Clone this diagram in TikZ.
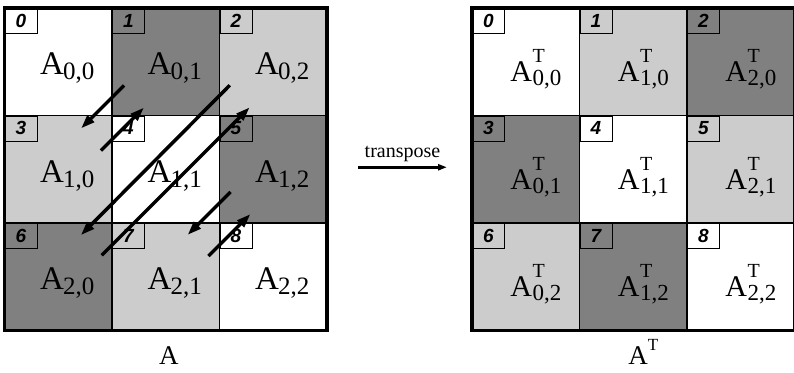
\documentclass[tikz,border=0pt]{standalone}
\usepackage{fontspec}
\setmainfont{Liberation Serif}
\newfontfamily\numfont{Liberation Sans}
\usepackage{tikz}
\usetikzlibrary{arrows.meta, calc}
\definecolor{lightblk}{gray}{0.80}
\definecolor{darkblk}{gray}{0.50}

% block names: A_{i,j} and A^T_{i,j}
\newcommand{\blk}[2]{A\kern-0.02em\raisebox{-5pt}{\fontsize{25}{25}\selectfont #1,#2}}
\newcommand{\blkT}[2]{A\kern0.02em\rlap{\raisebox{19pt}{\fontsize{20}{20}\selectfont T}}%
  \raisebox{-4pt}{\fontsize{23}{23}\selectfont #1,#2}}

\begin{document}
\begin{tikzpicture}[
  x=1pt, y=-1pt,
  cell/.style={rectangle, draw, line width=1.2pt, minimum width=107.5pt,
               minimum height=107.5pt, inner sep=0pt, outer sep=0pt},
  wcell/.style={cell, fill=white},
  lcell/.style={cell, fill=lightblk},
  dcell/.style={cell, fill=darkblk},
  numbox/.style={rectangle, draw, line width=0.9pt, minimum width=32pt,
                 minimum height=25pt, inner sep=0pt, anchor=north west,
                 font={\numfont\fontsize{19}{19}\selectfont\bfseries\itshape}},
  lbl/.style={font=\fontsize{33}{36}\selectfont, inner sep=0pt, anchor=base},
  lblT/.style={font=\fontsize{30}{33}\selectfont, inner sep=0pt, anchor=base},
  caption/.style={font=\fontsize{27}{29}\selectfont, inner sep=0pt, anchor=base},
  frame/.style={line width=3.5pt},
  mvarr/.style={-{Triangle[length=14pt, width=9pt]}, line width=3.5pt},
  tarr/.style={-{Triangle[length=9pt, width=6pt]}, line width=2.5pt},
]
\useasboundingbox (0,0) rectangle (794,372);

%% ── Matrix A ─────────────────────────────────────────────────────────────────
\node[wcell] (a00) at (58.25, 61.75)  {};
\node[dcell] (a01) at (165.75, 61.75) {};
\node[lcell] (a02) at (273.25, 61.75) {};
\node[lcell] (a10) at (58.25, 169.25)  {};
\node[wcell] (a11) at (165.75, 169.25) {};
\node[dcell] (a12) at (273.25, 169.25) {};
\node[dcell] (a20) at (58.25, 276.75)  {};
\node[lcell] (a21) at (165.75, 276.75) {};
\node[wcell] (a22) at (273.25, 276.75) {};

\node[numbox, fill=white]    at (a00.north west) {0};
\node[numbox, fill=darkblk]  at (a01.north west) {1};
\node[numbox, fill=lightblk] at (a02.north west) {2};
\node[numbox, fill=lightblk] at (a10.north west) {3};
\node[numbox, fill=white]    at (a11.north west) {4};
\node[numbox, fill=darkblk]  at (a12.north west) {5};
\node[numbox, fill=darkblk]  at (a20.north west) {6};
\node[numbox, fill=lightblk] at (a21.north west) {7};
\node[numbox, fill=white]    at (a22.north west) {8};

\node[lbl] at ([shift={(9,13)}]a00.center) {\blk{0}{0}};
\node[lbl] at ([shift={(9,13)}]a01.center) {\blk{0}{1}};
\node[lbl] at ([shift={(9,13)}]a02.center) {\blk{0}{2}};
\node[lbl] at ([shift={(9,13)}]a10.center) {\blk{1}{0}};
\node[lbl] at ([shift={(9,13)}]a11.center) {\blk{1}{1}};
\node[lbl] at ([shift={(9,13)}]a12.center) {\blk{1}{2}};
\node[lbl] at ([shift={(9,13)}]a20.center) {\blk{2}{0}};
\node[lbl] at ([shift={(9,13)}]a21.center) {\blk{2}{1}};
\node[lbl] at ([shift={(9,13)}]a22.center) {\blk{2}{2}};

\draw[frame] (a00.north west) rectangle (a22.south east);

%% ── Block swaps across the diagonal ──────────────────────────────────────────
\draw[mvarr] ([shift={(12,-30)}]a11.north west) -- ([shift={(-31,13)}]a11.north west);
\draw[mvarr] ([shift={(-11,35)}]a11.north west) -- ([shift={(32,-8)}]a11.north west);
\draw[mvarr] ([shift={(64,-84)}]a11.center) -- ([shift={(-85,66)}]a11.center);
\draw[mvarr] ([shift={(-64,86)}]a11.center) -- ([shift={(84,-62)}]a11.center);
\draw[mvarr] ([shift={(11,-31)}]a11.south east) -- ([shift={(-32,12)}]a11.south east);
\draw[mvarr] ([shift={(-11,33)}]a11.south east) -- ([shift={(31,-9)}]a11.south east);

%% ── Matrix A^T ───────────────────────────────────────────────────────────────
\node[wcell] (t00) at (525.75, 61.75) {};
\node[lcell] (t01) at (633.25, 61.75) {};
\node[dcell] (t02) at (740.75, 61.75) {};
\node[dcell] (t10) at (525.75, 169.25) {};
\node[wcell] (t11) at (633.25, 169.25) {};
\node[lcell] (t12) at (740.75, 169.25) {};
\node[lcell] (t20) at (525.75, 276.75) {};
\node[dcell] (t21) at (633.25, 276.75) {};
\node[wcell] (t22) at (740.75, 276.75) {};

\node[numbox, fill=white]    at (t00.north west) {0};
\node[numbox, fill=lightblk] at (t01.north west) {1};
\node[numbox, fill=darkblk]  at (t02.north west) {2};
\node[numbox, fill=darkblk]  at (t10.north west) {3};
\node[numbox, fill=white]    at (t11.north west) {4};
\node[numbox, fill=lightblk] at (t12.north west) {5};
\node[numbox, fill=lightblk] at (t20.north west) {6};
\node[numbox, fill=darkblk]  at (t21.north west) {7};
\node[numbox, fill=white]    at (t22.north west) {8};

\node[lblT] at ([shift={(10,20)}]t00.center) {\blkT{0}{0}};
\node[lblT] at ([shift={(10,20)}]t01.center) {\blkT{1}{0}};
\node[lblT] at ([shift={(10,20)}]t02.center) {\blkT{2}{0}};
\node[lblT] at ([shift={(10,20)}]t10.center) {\blkT{0}{1}};
\node[lblT] at ([shift={(10,20)}]t11.center) {\blkT{1}{1}};
\node[lblT] at ([shift={(10,20)}]t12.center) {\blkT{2}{1}};
\node[lblT] at ([shift={(10,20)}]t20.center) {\blkT{0}{2}};
\node[lblT] at ([shift={(10,20)}]t21.center) {\blkT{1}{2}};
\node[lblT] at ([shift={(10,20)}]t22.center) {\blkT{2}{2}};

\draw[frame] (t00.north west) rectangle (t22.south east);

%% ── Transpose arrow and captions ─────────────────────────────────────────────
\draw[tarr] ([shift={(31,-2)}]a12.east) -- ([shift={(-25,-2)}]t10.west)
    node[midway, above=4pt, inner sep=0pt, font=\fontsize{20}{22}\selectfont] {transpose};

\node[caption] (capA)  at ([shift={(3,34)}]a21.south)  {A};
\node[caption] (capAT) at ([shift={(10,34)}]t21.south) {A\raisebox{14pt}{\fontsize{17}{17}\selectfont T}};

\end{tikzpicture}
\end{document}
